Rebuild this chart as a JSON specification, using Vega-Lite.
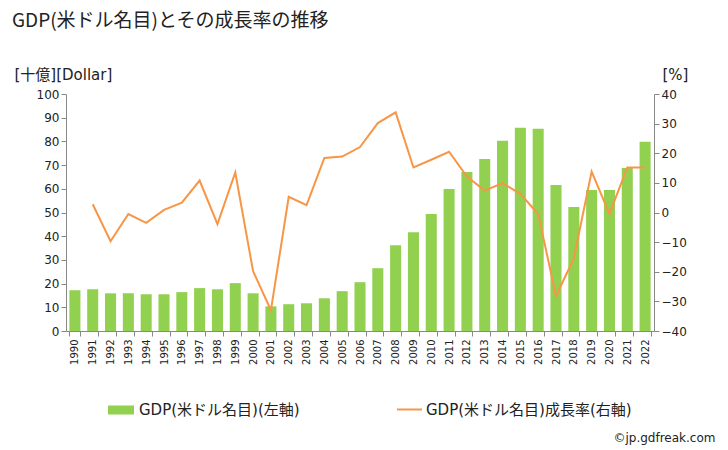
{
  "$schema": "https://vega.github.io/schema/vega-lite/v6.json",
  "width": 588,
  "height": 237,
  "autosize": {"type": "none"},
  "padding": {"left": 66, "top": 94, "right": 74, "bottom": 119},
  "background": "white",
  "config": {
    "font": "DejaVu Sans, Noto Sans CJK JP, sans-serif",
    "view": {"stroke": null},
    "axis": {"domainColor": "#888888", "tickColor": "#888888", "labelColor": "#222222", "grid": false, "labelFontSize": 12, "titleFontWeight": "normal", "titleColor": "#222222"}
  },
  "title": {
    "text": "GDP(米ドル名目)とその成長率の推移",
    "anchor": "start",
    "frame": "group",
    "fontSize": 19,
    "fontWeight": "normal",
    "color": "#222222",
    "font": "Noto Sans CJK JP, sans-serif",
    "dx": -54,
    "offset": 36
  },
  "data": {
    "values": [
      {"year": "1990", "gdp": 17.2, "growth": null},
      {"year": "1991", "gdp": 17.6, "growth": 2.8},
      {"year": "1992", "gdp": 15.9, "growth": -9.7},
      {"year": "1993", "gdp": 15.9, "growth": -0.5},
      {"year": "1994", "gdp": 15.5, "growth": -3.5},
      {"year": "1995", "gdp": 15.5, "growth": 0.9},
      {"year": "1996", "gdp": 16.4, "growth": 3.3},
      {"year": "1997", "gdp": 18.1, "growth": 10.8},
      {"year": "1998", "gdp": 17.6, "growth": -3.9},
      {"year": "1999", "gdp": 20.2, "growth": 13.5},
      {"year": "2000", "gdp": 15.9, "growth": -19.8},
      {"year": "2001", "gdp": 10.4, "growth": -33.0},
      {"year": "2002", "gdp": 11.3, "growth": 5.3},
      {"year": "2003", "gdp": 11.7, "growth": 2.5},
      {"year": "2004", "gdp": 13.8, "growth": 18.4},
      {"year": "2005", "gdp": 16.8, "growth": 18.9},
      {"year": "2006", "gdp": 20.6, "growth": 22.1},
      {"year": "2007", "gdp": 26.5, "growth": 30.2},
      {"year": "2008", "gdp": 36.2, "growth": 33.8},
      {"year": "2009", "gdp": 41.7, "growth": 15.2},
      {"year": "2010", "gdp": 49.4, "growth": 17.8},
      {"year": "2011", "gdp": 59.9, "growth": 20.5},
      {"year": "2012", "gdp": 67.1, "growth": 12.1},
      {"year": "2013", "gdp": 72.6, "growth": 7.4},
      {"year": "2014", "gdp": 80.3, "growth": 9.9},
      {"year": "2015", "gdp": 85.8, "growth": 6.3},
      {"year": "2016", "gdp": 85.3, "growth": -0.5},
      {"year": "2017", "gdp": 61.6, "growth": -28.2},
      {"year": "2018", "gdp": 52.3, "growth": -15.5},
      {"year": "2019", "gdp": 59.5, "growth": 13.8},
      {"year": "2020", "gdp": 59.5, "growth": -0.5},
      {"year": "2021", "gdp": 68.8, "growth": 15.2},
      {"year": "2022", "gdp": 79.8, "growth": 15.2}
    ]
  },
  "layer": [
    {
      "mark": {"type": "bar"},
      "encoding": {
        "x": {
          "field": "year", "type": "ordinal",
          "scale": {"paddingInner": 0.38, "paddingOuter": 0.19},
          "axis": {
            "title": "©jp.gdfreak.com",
            "titleFontSize": 12,
            "titleX": 649, "titleY": 106,
            "titleAlign": "right", "titleAnchor": null, "titleBaseline": "middle",
            "labelAngle": -90, "labelAlign": "right", "labelBaseline": "middle",
            "labelFontSize": 10, "tickBand": "extent", "tickSize": 5, "labelPadding": 3
          }
        },
        "y": {
          "field": "gdp", "type": "quantitative",
          "scale": {"domain": [0, 100], "nice": false},
          "axis": {
            "values": [0, 10, 20, 30, 40, 50, 60, 70, 80, 90, 100],
            "title": "[十億][Dollar]",
            "titleAngle": 0, "titleAlign": "left", "titleBaseline": "middle",
            "titleX": -52, "titleY": -20, "titleFontSize": 15,
            "tickSize": 5
          }
        },
        "fill": {
          "datum": "GDP(米ドル名目)(左軸)",
          "scale": {"range": ["#92D050"]},
          "legend": {
            "title": null, "orient": "none", "legendX": 41, "legendY": 302,
            "symbolType": "M-1,-0.346H1V0.346H-1Z", "symbolSize": 676,
            "labelFontSize": 15, "labelColor": "#222222", "labelOffset": 4, "labelLimit": 0
          }
        }
      }
    },
    {
      "mark": {"type": "line", "strokeWidth": 2},
      "encoding": {
        "x": {"field": "year", "type": "ordinal"},
        "y": {
          "field": "growth", "type": "quantitative",
          "scale": {"domain": [-40, 40], "nice": false},
          "axis": {
            "orient": "right",
            "values": [-40, -30, -20, -10, 0, 10, 20, 30, 40],
            "title": "[%]",
            "titleAngle": 0, "titleAlign": "left", "titleBaseline": "middle",
            "titleX": 8, "titleY": -20, "titleFontSize": 15,
            "tickSize": 5
          }
        },
        "stroke": {
          "datum": "GDP(米ドル名目)成長率(右軸)",
          "scale": {"range": ["#F79646"]},
          "legend": {
            "title": null, "orient": "none", "legendX": 330, "legendY": 302,
            "symbolType": "stroke", "symbolSize": 625, "symbolStrokeWidth": 2,
            "labelFontSize": 15, "labelColor": "#222222", "labelOffset": 3, "labelLimit": 0
          }
        }
      }
    }
  ],
  "resolve": {"scale": {"y": "independent"}}
}
